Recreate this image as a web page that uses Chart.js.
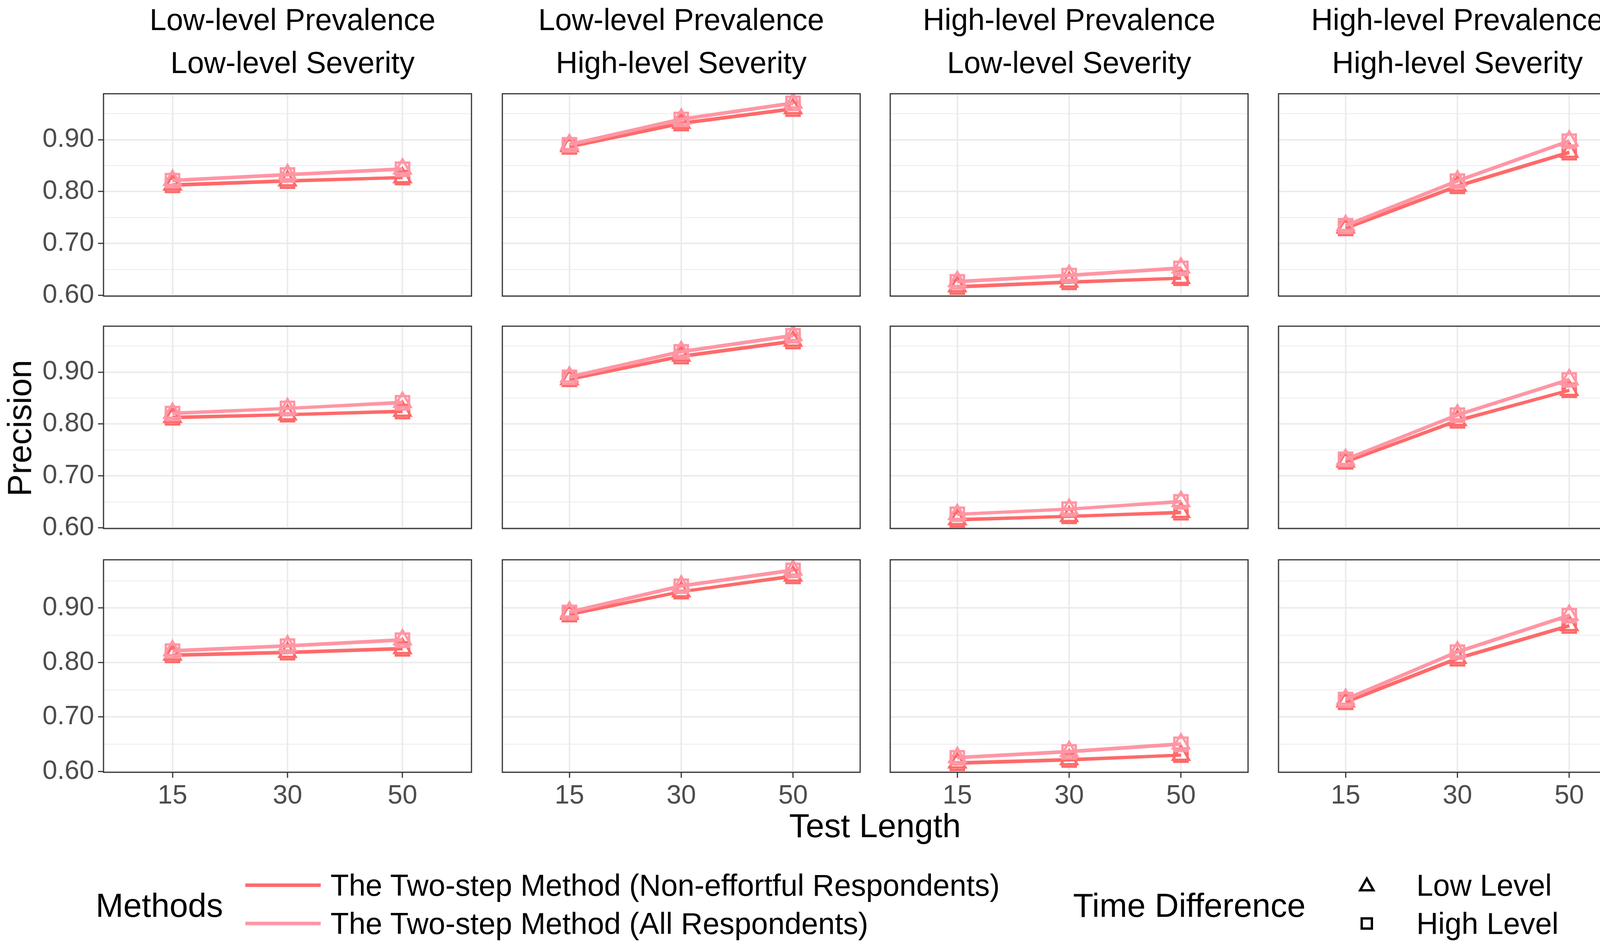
<!DOCTYPE html>
<html>
<head>
<meta charset="utf-8">
<script src="https://cdn.jsdelivr.net/npm/chart.js@4.4.1/dist/chart.umd.min.js"></script>
<style>
  body { margin: 0; background: #fff; }
  #page { position: relative; width: 4320px; height: 2437px; background: #fff; overflow: hidden;
          font-family: "Liberation Sans", Arial, sans-serif; color: #000; }
  canvas { position: absolute; }
  .txt { position: absolute; white-space: nowrap; transform: translate(-50%, -50%); line-height: 1; }
  .lg { position: absolute; white-space: nowrap; transform: translateY(-50%); line-height: 1; }
  .key { position: absolute; height: 9px; width: 193px; transform: translateY(-50%); }
</style>
</head>
<body>
<div id="page"></div>
<script>
// categories
var testLengths = ['15', '30', '50'];
var sampleSizes = ['500', '1000', '2000'];
var prevalence = ['Low-level Prevalence', 'Low-level Prevalence', 'High-level Prevalence', 'High-level Prevalence'];
var severity = ['Low-level Severity', 'High-level Severity', 'Low-level Severity', 'High-level Severity'];
var yTicks = [0.60, 0.65, 0.70, 0.75, 0.80, 0.85, 0.90, 0.95];

// precision, [sample size][condition][test length]
var nonEffLow = [
    [[0.813, 0.821, 0.827], [0.887, 0.932, 0.960], [0.617, 0.626, 0.633], [0.730, 0.811, 0.876]],
    [[0.813, 0.818, 0.825], [0.886, 0.931, 0.960], [0.616, 0.622, 0.630], [0.727, 0.807, 0.865]],
    [[0.814, 0.819, 0.826], [0.889, 0.930, 0.959], [0.616, 0.622, 0.630], [0.728, 0.808, 0.868]]
];
var nonEffHigh = [
    [[0.812, 0.820, 0.827], [0.886, 0.931, 0.959], [0.616, 0.625, 0.633], [0.729, 0.810, 0.875]],
    [[0.812, 0.818, 0.824], [0.886, 0.930, 0.959], [0.615, 0.622, 0.629], [0.727, 0.806, 0.865]],
    [[0.813, 0.818, 0.825], [0.888, 0.930, 0.958], [0.615, 0.621, 0.630], [0.727, 0.807, 0.867]]
];
var allLow = [
    [[0.822, 0.833, 0.844], [0.891, 0.940, 0.971], [0.627, 0.639, 0.653], [0.735, 0.821, 0.898]],
    [[0.821, 0.830, 0.842], [0.891, 0.940, 0.971], [0.626, 0.636, 0.651], [0.732, 0.818, 0.886]],
    [[0.822, 0.831, 0.842], [0.893, 0.941, 0.970], [0.626, 0.637, 0.651], [0.733, 0.820, 0.887]]
];
var allHigh = [
    [[0.821, 0.832, 0.843], [0.890, 0.939, 0.970], [0.626, 0.638, 0.652], [0.734, 0.820, 0.897]],
    [[0.820, 0.830, 0.841], [0.890, 0.939, 0.970], [0.626, 0.636, 0.650], [0.732, 0.817, 0.885]],
    [[0.821, 0.830, 0.841], [0.892, 0.940, 0.969], [0.625, 0.636, 0.650], [0.732, 0.819, 0.886]]
];

var RED = '#FE6A6A', PINK = '#FF96A4';
var FONT = '"Liberation Sans", Arial, sans-serif';

var colLeft = [265, 1260, 2253, 3247];
var rowTop = [214, 809, 1407];
var panelW = 968, panelH = 570;
var PAD = 4, YAXIS_W = 265, XAXIS_H = 100;

var page = document.getElementById('page');

function addText(cls, text, x, y, size, extra) {
    var d = document.createElement('div');
    d.className = cls;
    d.textContent = text;
    d.style.left = x + 'px';
    d.style.top = y + 'px';
    d.style.fontSize = size + 'px';
    if (extra) d.style.transform = extra;
    page.appendChild(d);
    return d;
}

var panelBorder = {
    id: 'panelBorder',
    afterDraw: function(chart) {
        var a = chart.chartArea, c = chart.ctx;
        c.save();
        c.strokeStyle = '#333333';
        c.lineWidth = 3;
        c.strokeRect(a.left, a.top, a.right - a.left, a.bottom - a.top);
        c.restore();
    }
};

function toPoints(arr) {
    return arr.map(function(v, i) { return {x: i + 1, y: v}; });
}

function lineSet(label, values, color, shape) {
    return {
        label: label,
        data: toPoints(values),
        borderColor: color,
        borderWidth: 8,
        pointStyle: shape,
        pointRadius: 24,
        pointBorderWidth: 6,
        pointBorderColor: color,
        pointBackgroundColor: 'rgba(0,0,0,0)',
        fill: false,
        tension: 0
    };
}

function isMajor(v) {
    return Math.abs(v * 10 - Math.round(v * 10)) < 1e-6;
}

// keep the panel exactly where the axis widths say, no label padding
function noPadding(s) {
    s.paddingTop = 0;
    s.paddingBottom = 0;
    s.paddingLeft = 0;
    s.paddingRight = 0;
}

function makePanel(r, c) {
    var leftCol = c === 0, bottomRow = r === 2;
    var canvas = document.createElement('canvas');
    var cl = leftCol ? 0 : colLeft[c] - PAD;
    var ct = rowTop[r] - PAD;
    var cw = colLeft[c] + panelW + PAD - cl;
    var ch = panelH + PAD + (bottomRow ? XAXIS_H : PAD);
    canvas.width = cw; canvas.height = ch;
    canvas.style.left = cl + 'px';
    canvas.style.top = ct + 'px';
    canvas.style.width = cw + 'px';
    canvas.style.height = ch + 'px';
    page.appendChild(canvas);

    new Chart(canvas.getContext('2d'), {
        type: 'line',
        data: {
            datasets: [
                lineSet('All / Low', allLow[r][c], PINK, 'triangle'),
                lineSet('All / High', allHigh[r][c], PINK, 'rect'),
                lineSet('Non-effortful / Low', nonEffLow[r][c], RED, 'triangle'),
                lineSet('Non-effortful / High', nonEffHigh[r][c], RED, 'rect')
            ]
        },
        options: {
            responsive: false,
            maintainAspectRatio: false,
            animation: false,
            devicePixelRatio: 1,
            layout: {padding: {top: PAD, right: PAD, left: leftCol ? 0 : PAD, bottom: bottomRow ? 0 : PAD}},
            plugins: {legend: {display: false}, tooltip: {enabled: false}},
            scales: {
                x: {
                    type: 'linear',
                    min: 0.4,
                    max: 3.6,
                    afterBuildTicks: function(s) { s.ticks = [1, 2, 3].map(function(v) { return {value: v}; }); },
                    afterFit: function(s) { s.height = bottomRow ? XAXIS_H : 0; noPadding(s); },
                    border: {display: false},
                    grid: {color: '#EBEBEB', lineWidth: 4, tickColor: '#333333', tickWidth: 3,
                           tickLength: 14, drawTicks: bottomRow},
                    ticks: {
                        display: bottomRow,
                        autoSkip: false,
                        maxRotation: 0,
                        padding: 6,
                        color: '#4D4D4D',
                        font: {family: FONT, size: 68},
                        callback: function(v) { return testLengths[v - 1]; }
                    }
                },
                y: {
                    min: 0.5985,
                    max: 0.9885,
                    afterBuildTicks: function(s) { s.ticks = yTicks.map(function(v) { return {value: v}; }); },
                    afterFit: function(s) { s.width = leftCol ? YAXIS_W : 0; noPadding(s); },
                    border: {display: false},
                    grid: {
                        color: '#EBEBEB',
                        lineWidth: function(ctx) { return ctx.tick && isMajor(ctx.tick.value) ? 4 : 2; },
                        drawTicks: leftCol,
                        tickLength: 14,
                        tickWidth: 3,
                        tickColor: function(ctx) { return ctx.tick && isMajor(ctx.tick.value) ? '#333333' : 'rgba(0,0,0,0)'; }
                    },
                    ticks: {
                        display: leftCol,
                        autoSkip: false,
                        padding: 10,
                        color: '#4D4D4D',
                        font: {family: FONT, size: 68},
                        callback: function(v) { return isMajor(v) ? v.toFixed(2) : ''; }
                    }
                }
            }
        },
        plugins: [panelBorder]
    });
}

for (var r = 0; r < 3; r++) {
    for (var c = 0; c < 4; c++) makePanel(r, c);
}

// strip labels
for (var c = 0; c < 4; c++) {
    var cx = colLeft[c] + panelW / 2;
    addText('txt', prevalence[c], cx, 50, 77);
    addText('txt', severity[c], cx, 160, 77);
}
for (var r = 0; r < 3; r++) {
    addText('txt', sampleSizes[r], 4265, rowTop[r] + panelH / 2, 77, 'translate(-50%, -50%) rotate(90deg)');
}

// axis titles
addText('txt', 'Precision', 50, (rowTop[0] + rowTop[2] + panelH) / 2, 85, 'translate(-50%, -50%) rotate(-90deg)');
addText('txt', 'Test Length', (colLeft[0] + colLeft[3] + panelW) / 2, 2113, 85);

// legend
var methodNames = ['The Two-step Method (Non-effortful Respondents)', 'The Two-step Method (All Respondents)'];
var methodColors = [RED, PINK];
var timeLevels = ['Low Level', 'High Level'];
var keyY = [2266, 2364];

addText('lg', 'Methods', 245, 2317, 85);
for (var i = 0; i < 2; i++) {
    var k = document.createElement('div');
    k.className = 'key';
    k.style.left = '628px';
    k.style.top = keyY[i] + 'px';
    k.style.background = methodColors[i];
    page.appendChild(k);
    addText('lg', methodNames[i], 846, keyY[i], 77);
}

addText('lg', 'Time Difference', 2747, 2317, 85);
var shapeSvg = [
    '<svg width="50" height="50" viewBox="0 0 50 50"><polygon points="25,8 42,38 8,38" fill="none" stroke="#000" stroke-width="6" stroke-linejoin="miter"/></svg>',
    '<svg width="50" height="50" viewBox="0 0 50 50"><rect x="12" y="12" width="26" height="26" fill="none" stroke="#000" stroke-width="6"/></svg>'
];
for (var i = 0; i < 2; i++) {
    var s = document.createElement('div');
    s.style.position = 'absolute';
    s.style.left = (3499 - 25) + 'px';
    s.style.top = (keyY[i] - 25) + 'px';
    s.innerHTML = shapeSvg[i];
    page.appendChild(s);
    addText('lg', timeLevels[i], 3626, keyY[i], 77);
}
</script>
</body>
</html>
